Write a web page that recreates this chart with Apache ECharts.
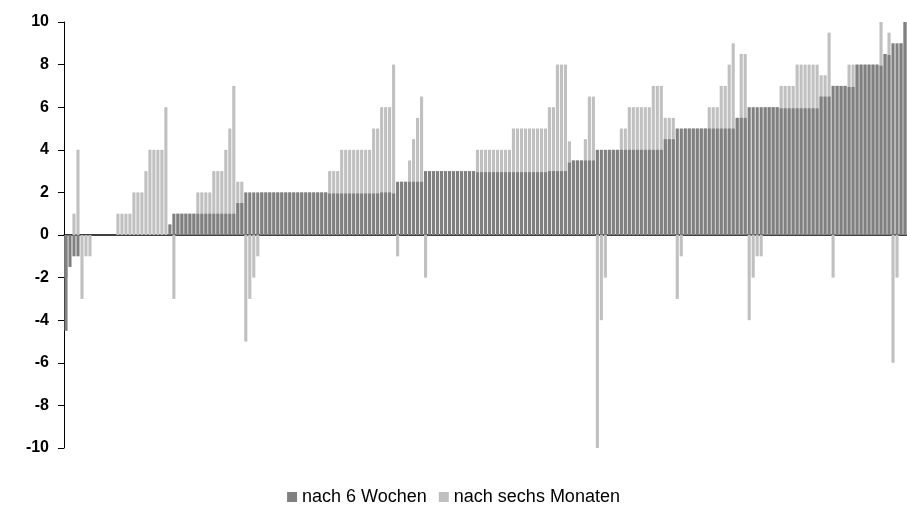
<!DOCTYPE html>
<html>
<head>
<meta charset="utf-8">
<script src="https://cdn.jsdelivr.net/npm/echarts@6/dist/echarts.min.js"></script>
<style>
  html, body { margin: 0; padding: 0; background: #fff; }
  #chart { width: 907px; height: 505px; }
</style>
</head>
<body>
<div id="chart"></div>
<script>
// values after 6 weeks (dark bars), one per patient
const wochen = [
  -4.5, -1.5, -1, -1, 0, 0, 0,
  0, 0, 0, 0, 0, 0,
  0, 0, 0, 0,
  0, 0, 0,
  0,
  0, 0, 0, 0,
  0,
  0.5,
  1,
  1, 1, 1, 1, 1,
  1, 1, 1, 1,
  1, 1, 1,
  1, 1, 1,
  1.5, 1.5,
  2, 2, 2, 2,
  2, 2, 2, 2, 2, 2, 2, 2, 2, 2, 2, 2, 2, 2, 2, 2, 2,
  1.95, 1.95, 1.95,
  1.95, 1.95, 1.95, 1.95, 1.95, 1.95, 1.95, 1.95,
  1.95, 1.95,
  2, 2, 2,
  1.95,
  2.5,
  2.5, 2.5,
  2.5, 2.5, 2.5, 2.5,
  3,
  3, 3, 3, 3, 3, 3, 3, 3, 3, 3, 3, 3,
  2.95, 2.95, 2.95, 2.95, 2.95, 2.95, 2.95, 2.95, 2.95,
  2.95, 2.95, 2.95, 2.95, 2.95, 2.95, 2.95, 2.95, 2.95,
  3, 3,
  3, 3, 3,
  3.4,
  3.5, 3.5, 3.5,
  3.5,
  3.5, 3.5,
  4, 4, 4,
  4, 4, 4,
  4, 4,
  4, 4, 4, 4, 4, 4,
  4, 4, 4,
  4.5, 4.5, 4.5,
  5, 5,
  5, 5, 5, 5, 5, 5,
  5, 5, 5,
  5, 5,
  5,
  5,
  5.5,
  5.5, 5.5,
  6, 6, 6, 6,
  6, 6, 6, 6,
  5.95, 5.95, 5.95, 5.95,
  5.95, 5.95, 5.95, 5.95, 5.95, 5.95,
  6.5, 6.5,
  6.5,
  7,
  7, 7, 7,
  6.95, 6.95,
  8, 8, 8, 8, 8, 8,
  7.95,
  8.5,
  8.45,
  9,
  9,
  9,
  10
];

// values after six months (light bars)
const monate = [
  -2, 0, 1, 4, -3, -1, -1,
  0, 0, 0, 0, 0, 0,
  1, 1, 1, 1,
  2, 2, 2,
  3,
  4, 4, 4, 4,
  6,
  0,
  -3,
  1, 1, 1, 1, 1,
  2, 2, 2, 2,
  3, 3, 3,
  4, 5, 7,
  2.5, 2.5,
  -5, -3, -2, -1,
  2, 2, 2, 2, 2, 2, 2, 2, 2, 2, 2, 2, 2, 2, 2, 2, 2,
  3, 3, 3,
  4, 4, 4, 4, 4, 4, 4, 4,
  5, 5,
  6, 6, 6,
  8,
  -1,
  2.5, 2.5,
  3.5, 4.5, 5.5, 6.5,
  -2,
  3, 3, 3, 3, 3, 3, 3, 3, 3, 3, 3, 3,
  4, 4, 4, 4, 4, 4, 4, 4, 4,
  5, 5, 5, 5, 5, 5, 5, 5, 5,
  6, 6,
  8, 8, 8,
  4.4,
  3.5, 3.5, 3.5,
  4.5,
  6.5, 6.5,
  -10, -4, -2,
  4, 4, 4,
  5, 5,
  6, 6, 6, 6, 6, 6,
  7, 7, 7,
  5.5, 5.5, 5.5,
  -3, -1,
  5, 5, 5, 5, 5, 5,
  6, 6, 6,
  7, 7,
  8,
  9,
  5.5,
  8.5, 8.5,
  -4, -2, -1, -1,
  6, 6, 6, 6,
  7, 7, 7, 7,
  8, 8, 8, 8, 8, 8,
  7.5, 7.5,
  9.5,
  -2,
  7, 7, 7,
  8, 8,
  8, 8, 8, 8, 8, 8,
  10,
  8.5,
  9.5,
  -6,
  -2,
  9,
  10
];

const yTicks = [-10, 10, 2]; // min, max, step
const categories = wochen.map((_, i) => String(i + 1));

const chart = echarts.init(document.getElementById("chart"));

const option = {
  animation: false,
  backgroundColor: "#fff",
  textStyle: { fontFamily: "Liberation Sans, Arial, sans-serif" },
  grid: { left: 64, top: 22, width: 844, bottom: 57 },
  legend: {
    top: 483,
    left: "center",
    icon: "rect",
    itemWidth: 10,
    itemHeight: 10,
    itemGap: 12,
    textStyle: { fontSize: 18, color: "#000" },
    data: ["nach 6 Wochen", "nach sechs Monaten"],
  },
  xAxis: {
    type: "category",
    data: categories,
    axisLine: { onZero: true, lineStyle: { color: "#000", width: 1.5 } },
    axisTick: { show: false },
    axisLabel: { show: false },
    splitLine: { show: false },
  },
  yAxis: {
    type: "value",
    min: yTicks[0],
    max: yTicks[1],
    interval: yTicks[2],
    axisLine: { show: true, lineStyle: { color: "#000", width: 1 } },
    axisTick: { show: true, length: 6, lineStyle: { color: "#000" } },
    splitLine: { show: false },
    axisLabel: {
      color: "#000",
      fontSize: 16,
      fontWeight: "bold",
      margin: 15,
    },
  },
  series: [
    {
      name: "nach 6 Wochen",
      type: "bar",
      data: wochen,
      barWidth: "78%",
      z: 3,
      itemStyle: { color: "#808080" },
    },
    {
      name: "nach sechs Monaten",
      type: "bar",
      data: monate,
      barWidth: "78%",
      barGap: "-100%",
      z: 2,
      itemStyle: { color: "#c0c0c0" },
    },
  ],
};

chart.setOption(option);
</script>
</body>
</html>
